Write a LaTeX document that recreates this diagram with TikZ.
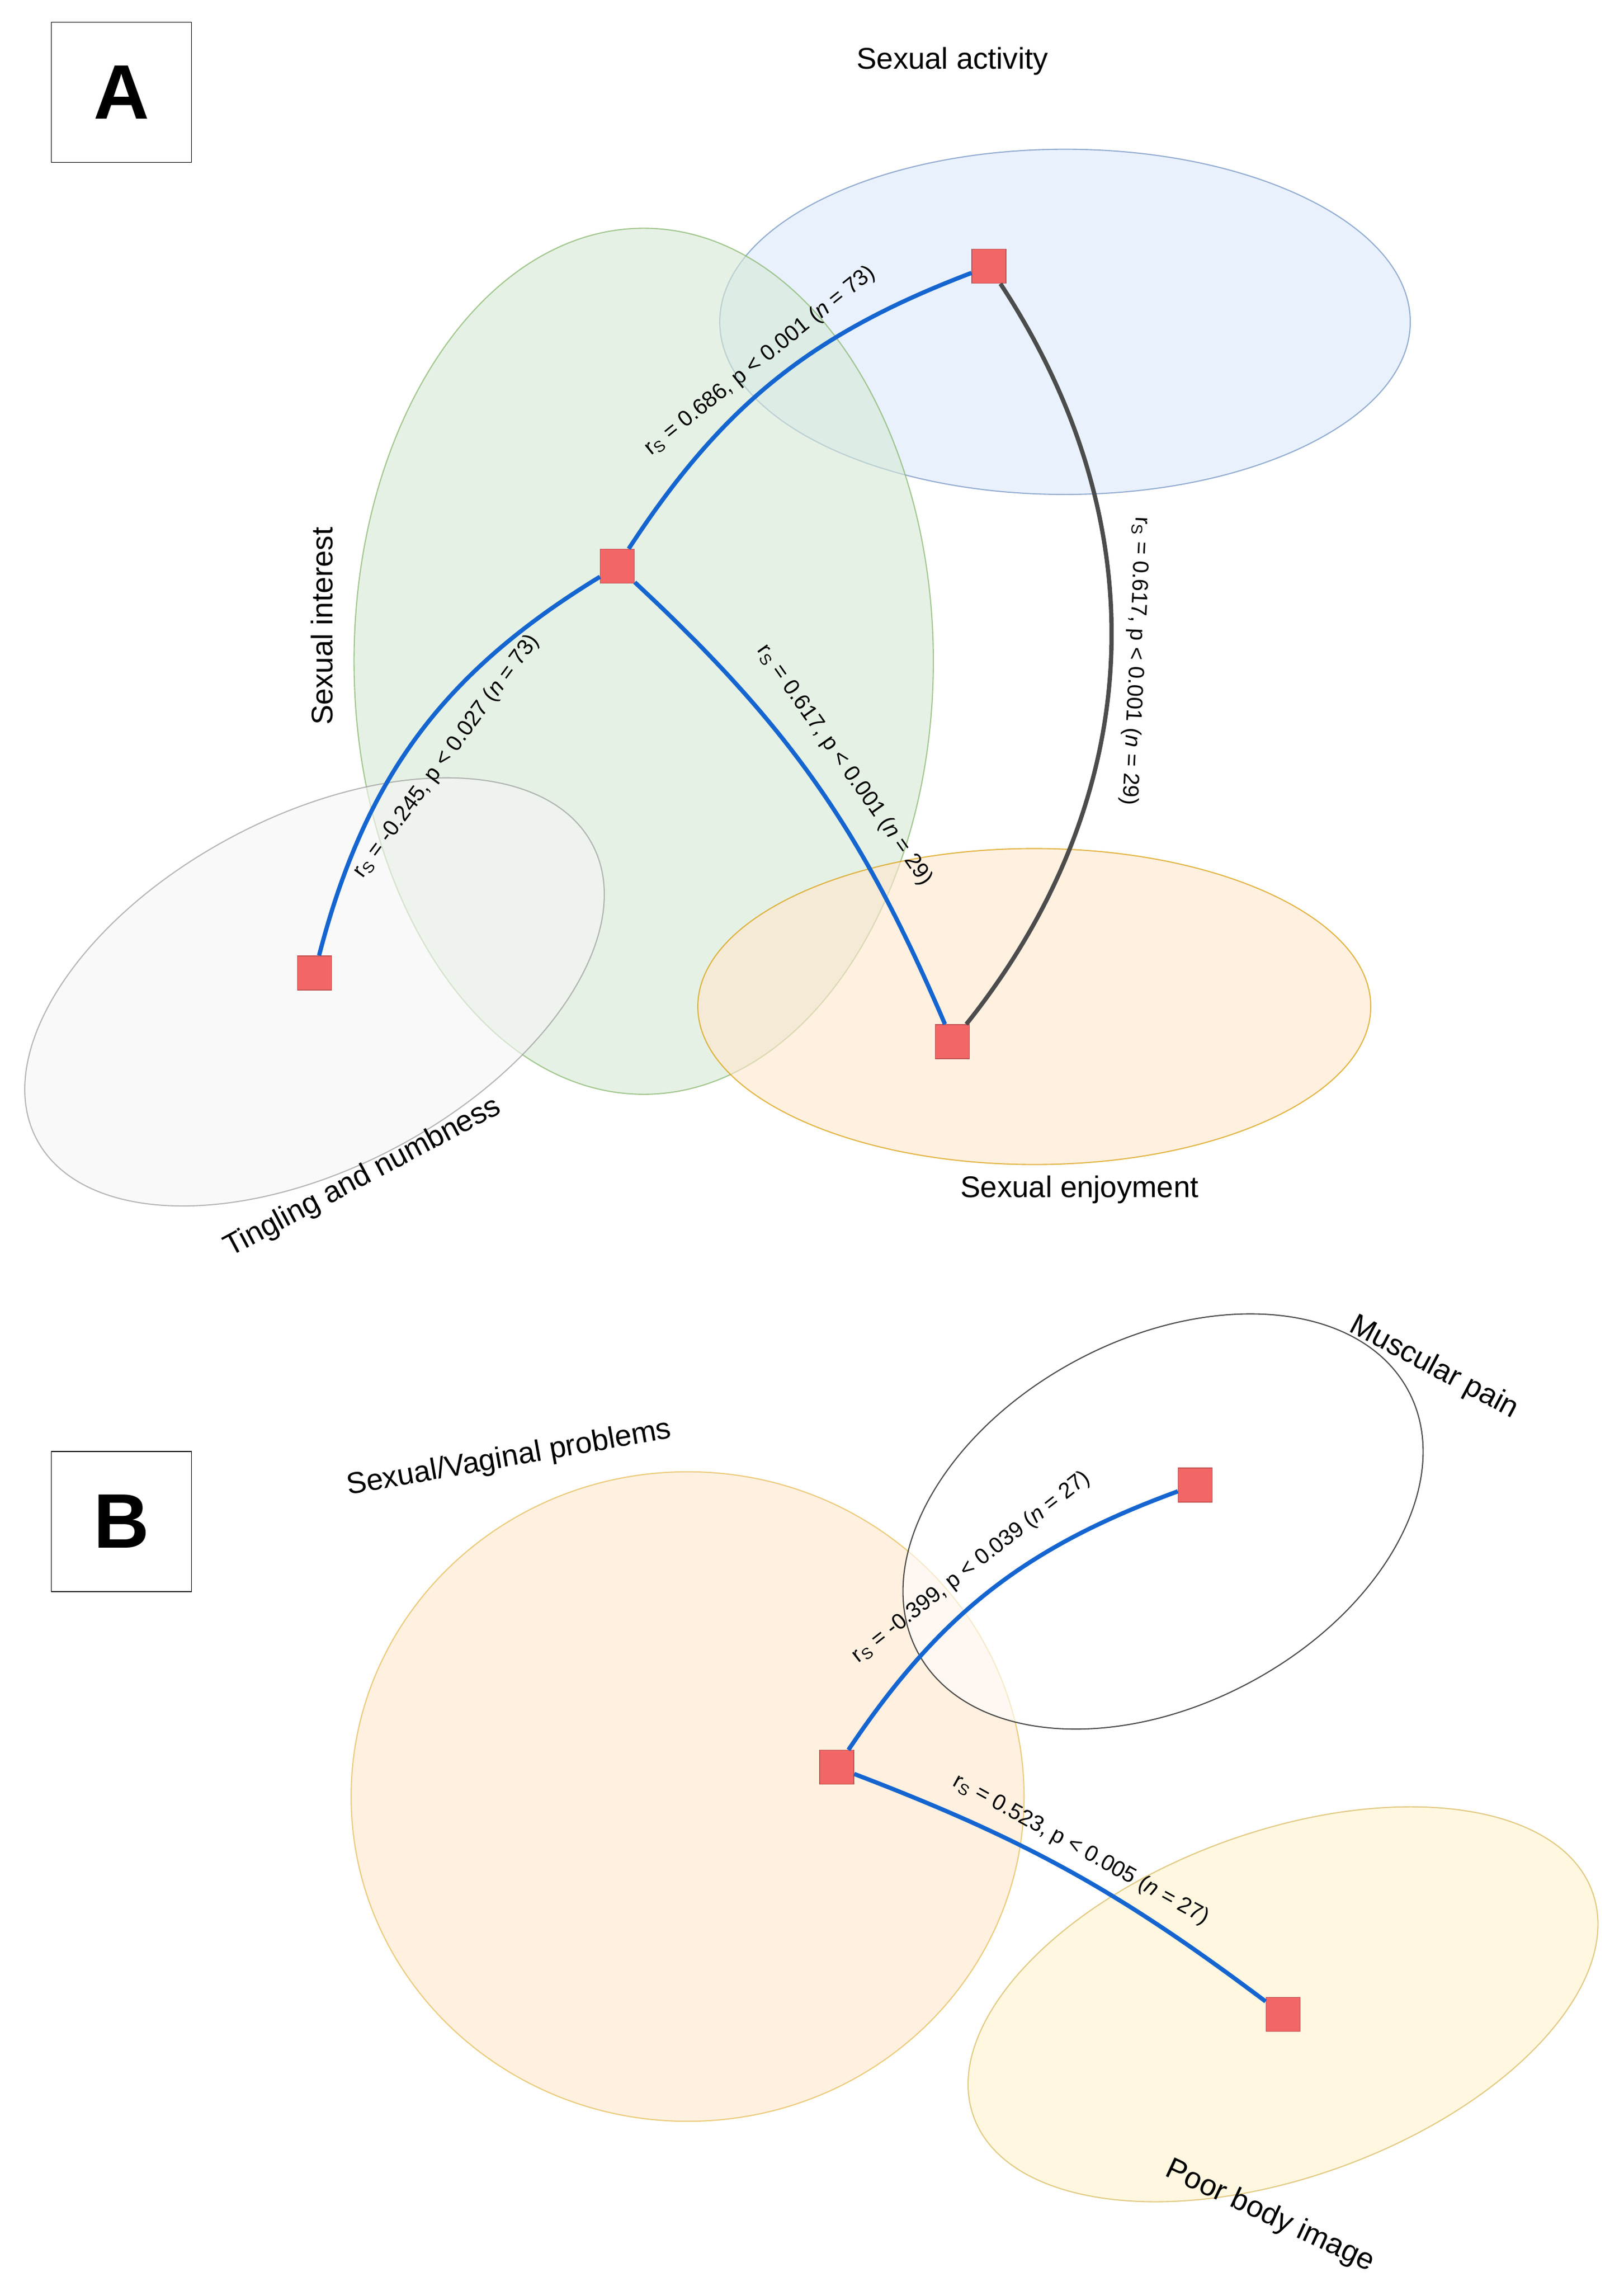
\documentclass[tikz,border=0pt]{standalone}
\usepackage{fontspec}
\setmainfont{Liberation Sans}
\usetikzlibrary{positioning}
\definecolor{linkblue}{HTML}{1565D0}
\definecolor{sqred}{HTML}{F26666}
\definecolor{bluefill}{HTML}{DAE8FC}\definecolor{bluedraw}{HTML}{6C8EBF}
\definecolor{greenfill}{HTML}{D5E8D4}\definecolor{greendraw}{HTML}{82B366}
\definecolor{orangefill}{HTML}{FFE6CC}\definecolor{orangedraw}{HTML}{D79B00}
\definecolor{yellowfill}{HTML}{FFF2CC}\definecolor{yellowdraw}{HTML}{D6B656}
\begin{document}
\begin{tikzpicture}[x=0.02662cm,y=-0.02662cm,
        every node/.style={font=\fontsize{15.5}{18}\selectfont},
        item/.style={rectangle, draw=sqred!80!black, fill=sqred, minimum size=0.62cm, inner sep=0pt},
        link/.style={draw=linkblue, line width=2.2pt},
        stat/.style={font=\fontsize{11.5}{13}\selectfont, sloped, inner sep=6pt},
        panel/.style={rectangle, draw=black, fill=white, minimum size=2.55cm, font=\fontsize{40}{44}\selectfont\bfseries},
        blob/.style={fill opacity=0.6, draw opacity=0.7, line width=0.6pt}
    ]
        \useasboundingbox (0,0) rectangle (1110,1566);
        % panel A
        \draw[blob, fill=bluefill, draw=bluedraw] (728,220) ellipse [x radius=236, y radius=118];
        \draw[blob, fill=greenfill, draw=greendraw] (440,452) ellipse [x radius=198, y radius=296];
        \draw[blob, fill=gray!8, draw=gray!80, rotate around={28:(215,678)}] (215,678) ellipse [x radius=215, y radius=120];
        \draw[blob, fill=orangefill, draw=orangedraw] (707,688) ellipse [x radius=230, y radius=108];

        \node[panel] (pa) at (83,63) {A};
        \node (tact) at (651,42) {Sexual activity};
        \node[rotate=90] (tint) at (220,428) {Sexual interest};
        \node[rotate=28] (ttin) at (248,805) {Tingling and numbness};
        \node (tenj) at (738,813) {Sexual enjoyment};

        \node[item] (act) at (676,182) {};
        \node[item] (int) at (422,387) {};
        \node[item] (tin) at (215,665) {};
        \node[item] (enj) at (651,712) {};

        \draw[link] (int) to[bend left=18] node[stat, above] {r\textsubscript{S} = 0.686, p < 0.001 (\textit{n} = 73)} (act);
        \draw[link] (tin) to[bend left=22] node[stat, below, inner sep=12pt] {r\textsubscript{S} = -0.245, p < 0.027 (\textit{n} = 73)} (int);
        \draw[link] (int) to[bend left=12] node[stat, above, inner sep=11pt] {r\textsubscript{S} = 0.617, p < 0.001 (\textit{n} = 29)} (enj);
        \draw[draw=gray!60!black, line width=2.2pt] (act) to[bend left=36] node[stat, allow upside down, above] {r\textsubscript{S} = 0.617, p < 0.001 (\textit{n} = 29)} (enj);

        % panel B
        \draw[blob, fill=orangefill, draw=orangedraw!70] (470,1228) ellipse [x radius=230, y radius=222];
        \draw[blob, fill=white, draw=black, rotate around={28:(795,1040)}] (795,1040) ellipse [x radius=190, y radius=125];
        \draw[blob, fill=yellowfill, draw=yellowdraw, rotate around={20:(877,1370)}] (877,1370) ellipse [x radius=225, y radius=118];

        \node[panel] (pb) at (83,1040) {B};
        \node[rotate=10] (tsv) at (348,997) {Sexual/Vaginal problems};
        \node[rotate=-28] (tpain) at (980,935) {Muscular pain};
        \node[rotate=-25] (tbody) at (868,1515) {Poor body image};

        \node[item] (sv) at (572,1208) {};
        \node[item] (pain) at (817,1015) {};
        \node[item] (body) at (877,1377) {};

        \draw[link] (sv) to[bend left=18] node[stat, above, inner sep=9pt] {r\textsubscript{S} = -0.399, p < 0.039 (\textit{n} = 27)} (pain);
        \draw[link] (sv) to[bend left=8] node[stat, above] {r\textsubscript{S} = 0.523, p < 0.005 (\textit{n} = 27)} (body);
    \end{tikzpicture}
\end{document}
